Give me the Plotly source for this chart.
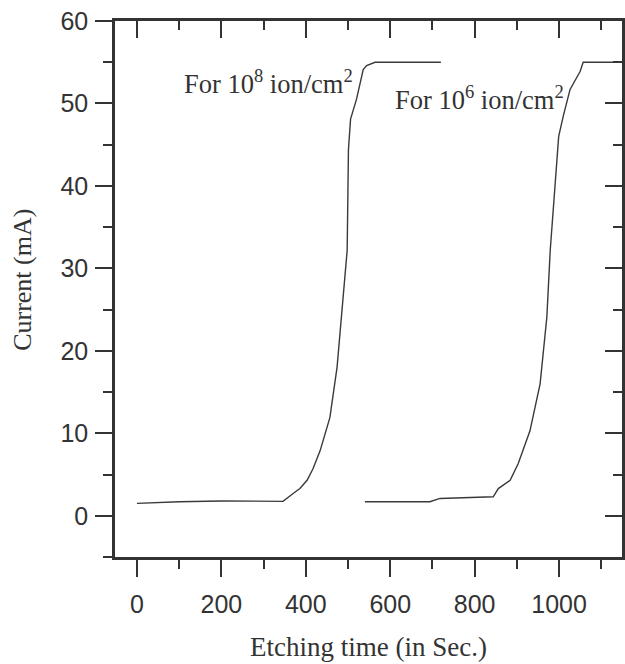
import plotly.graph_objects as go

# Curve for 10^8 ion/cm^2
t_1e8 = [0, 50, 100, 200, 300, 346, 370, 386, 403, 417, 434, 457, 474, 488, 498, 501, 506, 520, 536, 544, 564, 720]
i_1e8 = [1.5, 1.6, 1.7, 1.8, 1.8, 1.75, 2.7, 3.3, 4.3, 5.7, 7.9, 11.9, 18.0, 26.2, 32.2, 44.4, 48.1, 50.5, 54.1, 54.6, 55.0, 55.0]

# Curve for 10^6 ion/cm^2
t_1e6 = [540, 694, 718, 800, 844, 856, 884, 903, 931, 955, 971, 979, 999, 1010, 1026, 1050, 1057, 1150]
i_1e6 = [1.7, 1.7, 2.1, 2.25, 2.3, 3.3, 4.3, 6.3, 10.3, 16.0, 24.1, 32.2, 46.0, 48.5, 51.7, 53.9, 55.0, 55.0]

x_ticks = [0, 200, 400, 600, 800, 1000]
y_ticks = [0, 10, 20, 30, 40, 50, 60]
x_range = [-52, 1149]
y_range = [-5, 60]

ink = "#333333"
line_col = "#3a3a3a"
serif = "Liberation Serif, Times New Roman, serif"

fig = go.Figure()
fig.add_trace(go.Scatter(x=t_1e8, y=i_1e8, mode="lines",
                         line=dict(color=line_col, width=1.4), showlegend=False))
fig.add_trace(go.Scatter(x=t_1e6, y=i_1e6, mode="lines",
                         line=dict(color=line_col, width=1.4), showlegend=False))
# invisible trace to activate the mirrored (inside-tick) axes
fig.add_trace(go.Scatter(x=[None], y=[None], xaxis="x2", yaxis="y2",
                         showlegend=False, hoverinfo="skip"))

tickfont = dict(family="Liberation Sans, Arial, sans-serif", size=25, color=ink)
titlefont_x = dict(family=serif, size=27, color=ink)
titlefont_y = dict(family=serif, size=26, color=ink)
annfont = dict(family=serif, size=26.5, color=ink)

fig.update_layout(
    width=625, height=664,
    margin=dict(l=115, r=3, t=21, b=107),
    paper_bgcolor="white", plot_bgcolor="white",
    xaxis=dict(range=x_range, tickvals=x_ticks, ticks="outside", ticklen=17, tickwidth=2.2,
               tickcolor=ink, showline=True, linewidth=2.6, linecolor=ink, automargin=False,
               showgrid=False, zeroline=False, tickfont=tickfont, ticklabelstandoff=6,
               minor=dict(dtick=100, tick0=0, ticks="outside", ticklen=9, tickwidth=2.2, tickcolor=ink, showgrid=False)),
    yaxis=dict(range=y_range, tickvals=y_ticks, ticks="outside", ticklen=17, tickwidth=2.2,
               tickcolor=ink, showline=True, linewidth=2.6, linecolor=ink, automargin=False,
               showgrid=False, zeroline=False, tickfont=tickfont, ticklabelstandoff=2,
               minor=dict(dtick=5, tick0=0, ticks="outside", ticklen=9, tickwidth=2.2, tickcolor=ink, showgrid=False)),
    xaxis2=dict(range=x_range, overlaying="x", side="top", anchor="y", tickvals=x_ticks,
                ticks="inside", ticklen=17, tickwidth=2.2, tickcolor=ink, showticklabels=False,
                showline=True, linewidth=2.6, linecolor=ink, showgrid=False, zeroline=False, automargin=False,
                minor=dict(dtick=100, tick0=0, ticks="inside", ticklen=9, tickwidth=2.2, tickcolor=ink, showgrid=False)),
    yaxis2=dict(range=y_range, overlaying="y", side="right", anchor="x", tickvals=y_ticks,
                ticks="inside", ticklen=17, tickwidth=2.2, tickcolor=ink, showticklabels=False,
                showline=True, linewidth=2.6, linecolor=ink, showgrid=False, zeroline=False, automargin=False,
                minor=dict(dtick=5, tick0=0, ticks="inside", ticklen=9, tickwidth=2.2, tickcolor=ink, showgrid=False)),
    annotations=[
        dict(x=107, y=52.6, xref="x", yref="y", xanchor="left", yanchor="middle",
             text="For 10<sup>8</sup> ion/cm<sup>2</sup>", showarrow=False, font=annfont),
        dict(x=607, y=50.7, xref="x", yref="y", xanchor="left", yanchor="middle",
             text="For 10<sup>6</sup> ion/cm<sup>2</sup>", showarrow=False, font=annfont),
        dict(x=0.5, y=-0.168, xref="paper", yref="paper", xanchor="center", yanchor="middle",
             text="Etching time (in Sec.)", showarrow=False, font=titlefont_x),
        dict(x=-0.1815, y=0.517, xref="paper", yref="paper", xanchor="center", yanchor="middle",
             text="Current (mA)", textangle=-90, showarrow=False, font=titlefont_y),
    ],
)

fig.write_html("out.html", config={"displayModeBar": False},
               post_script="document.body.style.margin='0';document.body.style.overflow='hidden';")
